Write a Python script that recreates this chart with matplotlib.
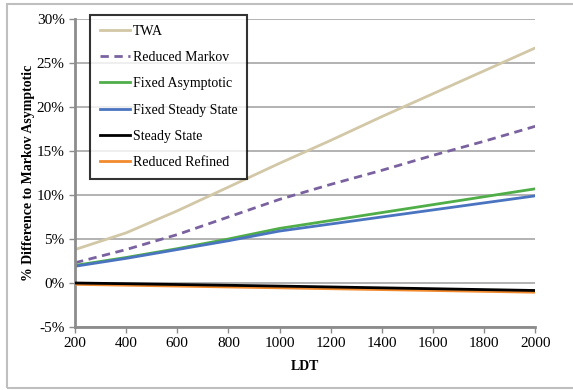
import matplotlib.pyplot as plt
import matplotlib.patches as patches
from matplotlib.ticker import FuncFormatter

plt.rcParams['font.family'] = ['Liberation Serif', 'DejaVu Serif']

# data
ldt = [200, 400, 600, 800, 1000, 1200, 1400, 1600, 1800, 2000]
twa = [3.8, 5.7, 8.2, 10.9, 13.6, 16.2, 18.9, 21.5, 24.1, 26.7]
reduced_markov = [2.3, 3.8, 5.5, 7.5, 9.5, 11.2, 12.8, 14.5, 16.1, 17.8]
fixed_asymptotic = [2.0, 2.9, 3.9, 5.0, 6.2, 7.1, 8.0, 8.9, 9.8, 10.7]
fixed_steady = [1.9, 2.8, 3.8, 4.8, 5.9, 6.7, 7.5, 8.3, 9.1, 9.9]
steady_state = [0.0, -0.08, -0.17, -0.26, -0.35, -0.45, -0.55, -0.65, -0.75, -0.85]
reduced_refined = [-0.15, -0.25, -0.35, -0.45, -0.55, -0.65, -0.75, -0.85, -0.95, -1.05]

fig = plt.figure(figsize=(5.73, 3.90), dpi=100)
ax = fig.add_axes([0.131, 0.1615, 0.803, 0.79])

# light grey frame round the chart area
frame = patches.Rectangle((7 / 573, 2 / 390), 1.0, 1 - 6 / 390, transform=fig.transFigure,
                          facecolor='none', edgecolor='#BFBFBF', linewidth=1.5, zorder=0)
fig.patches.append(frame)

lw = 2.0
ax.plot(ldt, twa, color='#D2C7A6', lw=lw, label='TWA')
ax.plot(ldt, reduced_markov, color='#7A62A0', lw=lw, ls=(0, (3, 2)), label='Reduced Markov')
ax.plot(ldt, fixed_asymptotic, color='#4FAE48', lw=lw, label='Fixed Asymptotic')
ax.plot(ldt, fixed_steady, color='#4A74C0', lw=lw, label='Fixed Steady State')
ax.plot(ldt, reduced_refined, color='#F28A2E', lw=lw, label='Reduced Refined', zorder=3)
ax.plot(ldt, steady_state, color='black', lw=lw, label='Steady State', zorder=3)

ax.set_xlim(200, 2000)
ax.set_ylim(-5, 30)
ax.set_xticks(range(200, 2001, 200))
ax.set_yticks(range(-5, 31, 5))
ax.yaxis.set_major_formatter(FuncFormatter(lambda v, p: f'{int(v)}%'))
ax.grid(axis='y', color='#A6A6A6', lw=1.2)
ax.set_axisbelow(True)

for s in ['top', 'right']:
    ax.spines[s].set_visible(False)
for s in ['left', 'bottom']:
    ax.spines[s].set_color('#8C8C8C')
    ax.spines[s].set_linewidth(2)
ax.tick_params(axis='both', colors='#8C8C8C', labelcolor='black', labelsize=11,
               direction='out', length=4, width=1)

ax.set_xlabel('LDT', fontsize=10, fontweight='bold', labelpad=7)
ax.set_ylabel('% Difference to Markov Asymptotic', fontsize=10, fontweight='bold', labelpad=1)

handles, labels = ax.get_legend_handles_labels()
order = ['TWA', 'Reduced Markov', 'Fixed Asymptotic', 'Fixed Steady State', 'Steady State', 'Reduced Refined']
hl = {l: h for h, l in zip(handles, labels)}
leg = ax.legend([hl[l] for l in order], order, loc='upper left', bbox_to_anchor=(0.033, 1.013),
                fontsize=10, frameon=True, fancybox=False, edgecolor='black',
                handlelength=2.15, handletextpad=0.2, labelspacing=0.96, borderpad=0.7,
                borderaxespad=0)
leg.get_frame().set_linewidth(1.5)

fig.savefig('out.png', dpi=100)
